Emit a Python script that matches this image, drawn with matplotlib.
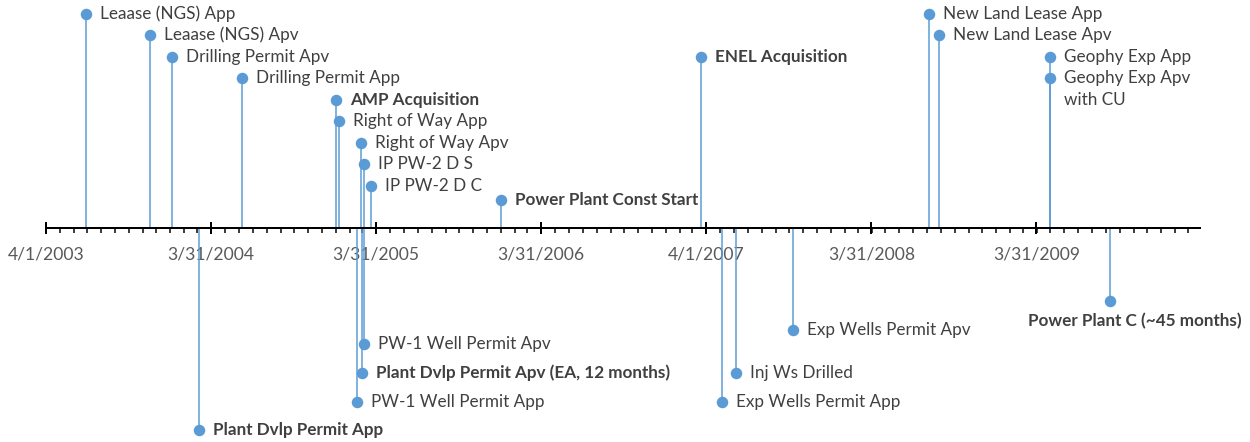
import datetime as dt
import matplotlib
matplotlib.use("Agg")
import matplotlib.pyplot as plt
import matplotlib.dates as mdates
import pandas as pd

# ------------------------------------------------------------
#  Dados
# ------------------------------------------------------------
above_names = ["Leaase (NGS) App", "Leaase (NGS) Apv", "Drilling Permit Apv",
               "Drilling Permit App", "AMP Acquisition", "Right of Way App",
               "Right of Way Apv", "IP PW-2 D S", "IP PW-2 D C",
               "Power Plant Const Start", "ENEL Acquisition",
               "New Land Lease App", "New Land Lease Apv",
               "Geophy Exp App", "Geophy Exp Apv\nwith CU"]
above_dates = ["2003-06-28", "2003-11-18", "2004-01-05", "2004-06-07",
               "2005-01-01", "2005-01-09", "2005-02-26", "2005-03-04",
               "2005-03-19", "2006-01-01", "2007-03-20", "2008-08-06",
               "2008-08-27", "2009-05-01", "2009-05-01"]
above_heights = [214, 193, 171, 150, 128, 107, 85, 64, 42, 28, 171, 214, 193, 171, 150]
above_bold = [False, False, False, False, True, False, False, False, False,
              True, True, False, False, False, False]

below_names = ["Plant Dvlp Permit App", "PW-1 Well Permit Apv",
               "Plant Dvlp Permit Apv (EA, 12 months)", "PW-1 Well Permit App",
               "Exp Wells Permit App", "Inj Ws Drilled", "Exp Wells Permit Apv",
               "Power Plant C (~45 months)"]
below_dates = ["2004-03-04", "2005-03-04", "2005-02-27", "2005-02-16",
               "2007-05-05", "2007-06-06", "2007-10-10", "2009-09-10"]
below_heights = [-202, -116, -145, -174, -174, -145, -102, -73]
below_bold = [True, False, True, False, False, False, False, True]

major_dates = ["2003-04-01", "2004-03-31", "2005-03-31", "2006-03-31",
               "2007-04-01", "2008-03-31", "2009-03-31"]
major_labels = ["4/1/2003", "3/31/2004", "3/31/2005", "3/31/2006",
                "4/1/2007", "3/31/2008", "3/31/2009"]
axis_start = "2003-04-01"
axis_end = "2010-03-28"

BLUE = "#5B9BD5"
TXT = "#404040"
TICK_TXT = "#595959"
PX = 0.72  # 1 px em pontos (dpi=100)
FS = 12.3

plt.rcParams["font.family"] = ["Lato", "DejaVu Sans"]


def to_num(s):
    return mdates.date2num(dt.datetime.strptime(s, "%Y-%m-%d"))


fig = plt.figure(figsize=(12.5, 4.42), dpi=100)
ax = fig.add_axes([0, 0, 1, 1])

# escala: 4/1/2003 em x=46 px, 330 px a cada 730 dias
t0 = to_num(axis_start)
t1 = to_num(axis_end)
ppd = 330 / 730
ax.set_xlim(t0 - 46 / ppd, t0 + 1204 / ppd)
ax.set_ylim(-214, 228)

names = above_names + below_names
dates = [to_num(d) for d in above_dates + below_dates]
heights = above_heights + below_heights
bolds = above_bold + below_bold

ax.vlines(dates, 0, heights, color=BLUE, lw=1.5 * PX, zorder=2)
ax.plot(dates, heights, "o", ms=11.5 * PX, color=BLUE, mec="none", zorder=3)

for name, x, h, b in zip(names, dates, heights, bolds):
    weight = "bold" if b else "normal"
    if name == "Power Plant C (~45 months)":
        # rótulo abaixo do ponto, centralizado
        ax.annotate(name, (x, h), xytext=(25 * PX, -20 * PX),
                    textcoords="offset points", ha="center", va="center",
                    fontsize=FS, color=TXT, fontweight=weight)
        continue
    for i, line in enumerate(name.split("\n")):
        ax.annotate(line, (x, h), xytext=(14 * PX, -22 * PX * i),
                    textcoords="offset points", ha="left", va="center",
                    fontsize=FS, color=TXT, fontweight=weight)

# eixo do tempo
for side in ["top", "left", "right"]:
    ax.spines[side].set_visible(False)
ax.spines["bottom"].set_position(("data", 0))
ax.spines["bottom"].set_bounds(t0, t1)
ax.spines["bottom"].set_linewidth(2 * PX)
ax.spines["bottom"].set_zorder(4)

ax.set_xticks([to_num(d) for d in major_dates])
ax.set_xticklabels(major_labels)
minor = pd.date_range(axis_start, axis_end, freq="MS")
ax.set_xticks(mdates.date2num(minor.to_pydatetime()), minor=True)
ax.tick_params(axis="x", which="major", direction="inout", length=12 * PX,
               width=2 * PX, pad=12 * PX, labelsize=12.6, labelcolor=TICK_TXT)
ax.tick_params(axis="x", which="minor", direction="out", length=5 * PX,
               width=1.5 * PX)
ax.set_yticks([])

fig.savefig("out.png", dpi=100)
